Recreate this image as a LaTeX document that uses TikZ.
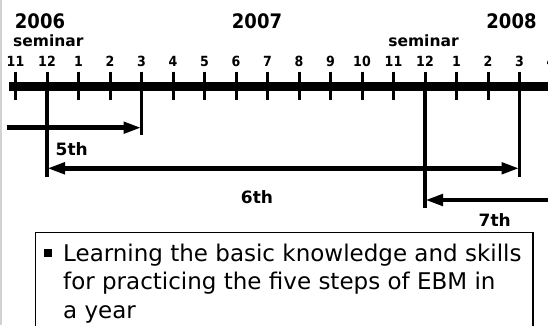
\documentclass[tikz,border=0pt]{standalone}
\usepackage{fontspec}
\setmainfont{DejaVu Sans}
\newfontfamily\narrowfont{DejaVu Sans Condensed}
\usetikzlibrary{arrows.meta}

\begin{document}
\begin{tikzpicture}[x=1pt,y=-1pt,>={Triangle[length=18pt,width=11pt]},
  month/.style={font=\narrowfont\bfseries\fontsize{14}{16}\selectfont,anchor=base},
  yearlbl/.style={font=\narrowfont\bfseries\fontsize{20}{22}\selectfont,anchor=base},
  semlbl/.style={font=\bfseries\fontsize{15.5}{17}\selectfont,anchor=base},
  roundlbl/.style={font=\bfseries\fontsize{17}{19}\selectfont,anchor=base},
  span/.style={line width=4.5pt}]
\useasboundingbox (0,0) rectangle (548,325);
\clip (0,0) rectangle (548,325);
\draw[gray!35,line width=2.5pt] (1,0) -- (1,325);

\node[yearlbl] (y2006) at (40,28.3) {2006};
\node[yearlbl] (y2007) at (257,28.3) {2007};
\node[yearlbl] (y2008) at (511.5,28.3) {2008};
\node[semlbl] (sem1) at (48.3,46.7) {seminar};
\node[semlbl] (sem2) at (423.5,46.7) {seminar};

\draw[line width=9pt] (9,86) -- (560,86);
\foreach \m [count=\i from 0] in {11,12,1,2,3,4,5,6,7,8,9,10,11,12,1,2,3,4}{
  \coordinate (t\i) at ({15.5+31.5*\i},86);
  \draw[line width=3pt] (t\i) ++(0,-14.3) -- ++(0,28.6);
  \node[month] (m\i) at ({15.5+31.5*\i},66) {\m};
}

\coordinate (d1) at (0,176.7);
\coordinate (d4) at (0,135);
\coordinate (d13) at (0,208.3);
\draw[line width=3.3pt] (t1) -- (t1 |- d1);
\draw[line width=3.3pt] (t4) -- (t4 |- d4);
\draw[line width=3.3pt] (t13) -- (t13 |- d13);
\draw[line width=3.3pt] (t16) -- (t16 |- d1);

\coordinate (r5) at (6.7,127.7);
\coordinate (r6) at (0,168.3);
\coordinate (r7) at (552,200);
\draw[span,->] (r5) -- (t4 |- r5);
\draw[span,<->] (t1 |- r6) -- (t16 |- r6);
\draw[span,->] (r7) -- (t13 |- r7);

\node[roundlbl] (l5) at (71.7,155) {5th};
\node[roundlbl] (l6) at (257,203) {6th};
\node[roundlbl] (l7) at (494.7,226.7) {7th};

\draw[line width=1.2pt] (35.5,232.7) rectangle (533,345);
\node[fill,inner sep=0,minimum size=8pt] (dot) at (47.5,253) {};
\node[anchor=north west,inner sep=0,align=left,font=\fontsize{23}{28.7}\selectfont] (aim) at (63,243.5)
  {Learning the basic knowledge and skills\\for practicing the five steps of EBM in\\a year};
\end{tikzpicture}
\end{document}
